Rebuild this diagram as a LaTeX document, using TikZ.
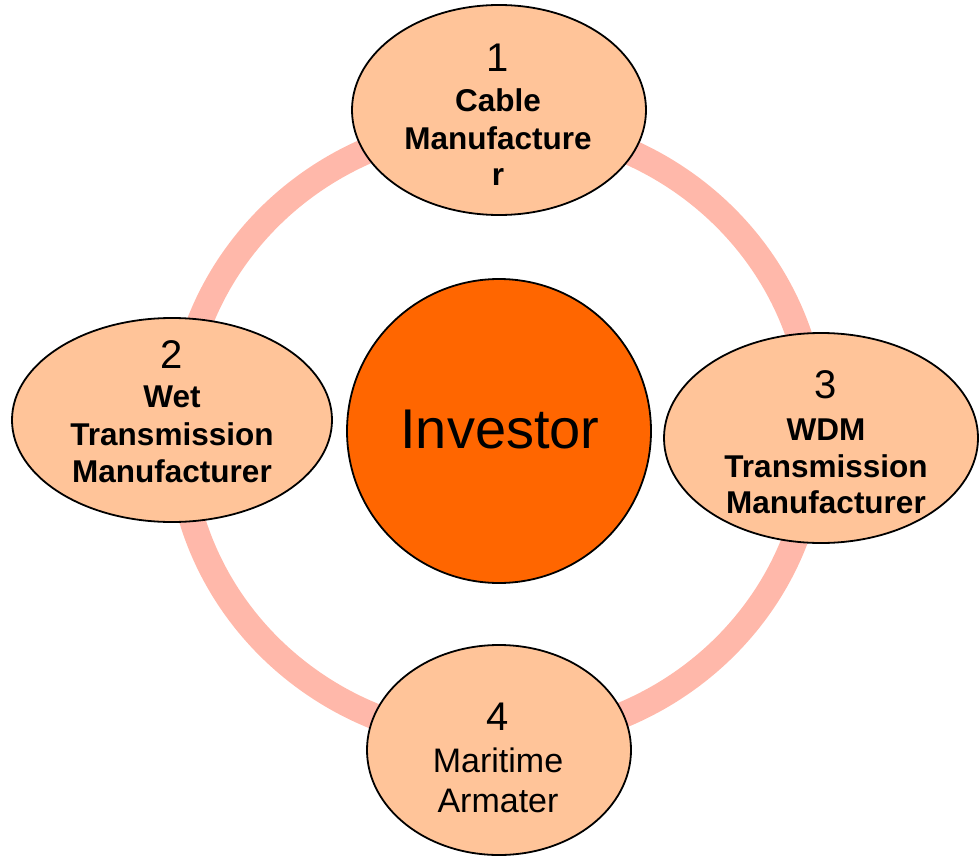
\documentclass[tikz,border=0pt]{standalone}
\usepackage{fontspec}
\setmainfont{Liberation Sans}
\usetikzlibrary{shapes.geometric}
\definecolor{ringcol}{RGB}{255,184,170}
\definecolor{bubblefill}{RGB}{255,196,153}
\definecolor{centerfill}{RGB}{255,102,0}
\begin{document}
\begin{tikzpicture}[x=1pt,y=-1pt,
  bubble/.style={ellipse, draw=black, line width=1.8pt, fill=bubblefill, inner sep=0pt},
  hub/.style={circle, draw=black, line width=1.8pt, fill=centerfill, inner sep=0pt},
  num/.style={anchor=base, inner sep=0pt, font=\fontsize{40}{40}\selectfont},
  lbl/.style={anchor=base, inner sep=0pt, font=\fontsize{31.5}{32}\selectfont\bfseries},
  lblr/.style={anchor=base, inner sep=0pt, font=\fontsize{34}{34}\selectfont},
  hubtxt/.style={anchor=base, inner sep=0pt, font=\fontsize{56}{56}\selectfont}]
\useasboundingbox (0,0) rectangle (979,856);
\draw[line width=26pt, color=ringcol] (497,432) ellipse [x radius=318, y radius=308];
% bubbles
\node[bubble, minimum width=294pt, minimum height=210pt] (e1) at (499,110) {};
\node[bubble, minimum width=320pt, minimum height=204pt] (e2) at (172,420) {};
\node[bubble, minimum width=314pt, minimum height=210pt] (e3) at (821,438) {};
\node[bubble, minimum width=264pt, minimum height=210pt] (e4) at (499,750) {};
\node[hub, minimum size=304pt] (hub) at (499,431) {};
% texts
\node[num] (n1) at (498,72) {1};
\node[lbl] (t1a) at (498,112) {Cable};
\node[lbl] (t1b) at (498,149) {Manufacture};
\node[lbl] (t1c) at (498,185) {r};
\node[num] (n2) at (172,368) {2};
\node[lbl] (t2a) at (172,407) {Wet};
\node[lbl] (t2b) at (172,445) {Transmission};
\node[lbl] (t2c) at (172,482) {Manufacturer};
\node[num] (n3) at (826,398) {3};
\node[lbl] (t3a) at (826,440) {WDM};
\node[lbl] (t3b) at (826,477) {Transmission};
\node[lbl] (t3c) at (826,513) {Manufacturer};
\node[num] (n4) at (498,730) {4};
\node[lblr] (t4a) at (498,772) {Maritime};
\node[lblr] (t4b) at (498,812) {Armater};
\node[hubtxt] (inv) at (500,448) {Investor};
\end{tikzpicture}
\end{document}
